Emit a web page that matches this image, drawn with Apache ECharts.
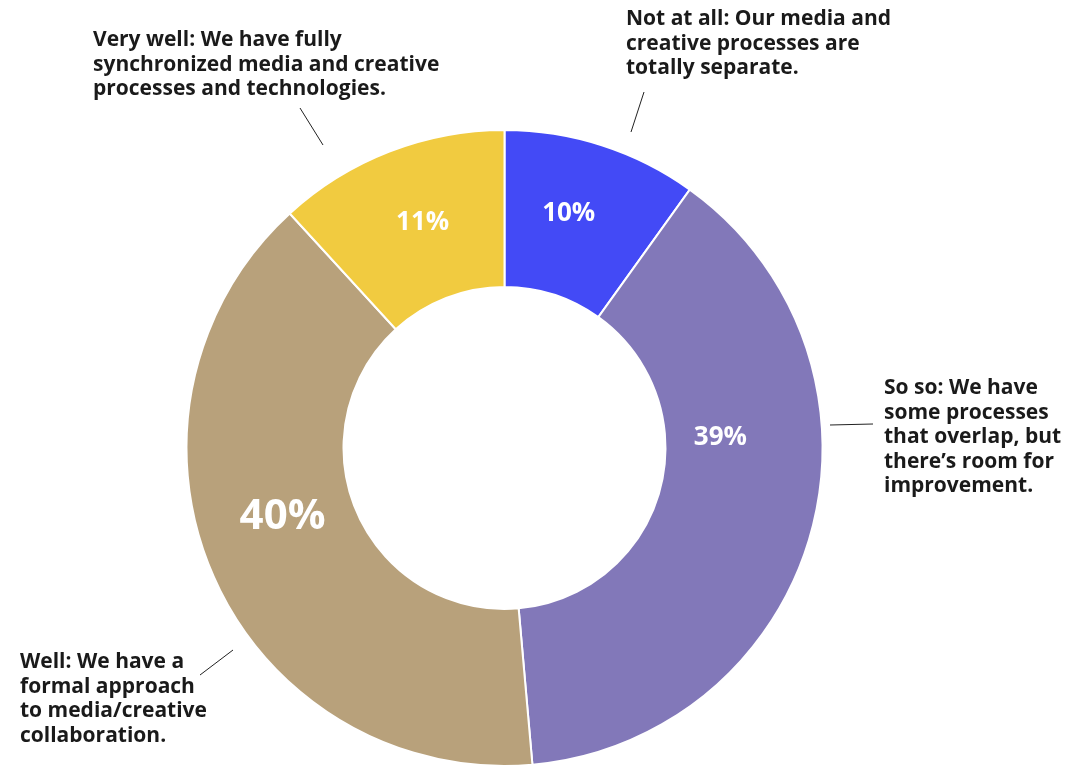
<!DOCTYPE html>
<html>
<head>
<meta charset="utf-8">
<script src="https://cdn.jsdelivr.net/npm/echarts@6/dist/echarts.min.js"></script>
<style>
html,body{margin:0;padding:0;background:#fff;}
#chart{width:1072px;height:766px;}
</style>
</head>
<body>
<div id="chart"></div>
<script>
// Data
const categories = ['Not at all', 'So so', 'Well', 'Very well'];
const values = [9.9, 38.7, 39.6, 11.8];          // slice shares as drawn
const valueLabels = ['10%', '39%', '40%', '11%']; // printed labels
const colors = ['#434AF6', '#8278B9', '#B8A17B', '#F1CB40'];
const descriptions = [
  'Not at all: Our media and\ncreative processes are\ntotally separate.',
  'So so: We have\nsome processes\nthat overlap, but\nthere\u2019s room for\nimprovement.',
  'Well: We have a\nformal approach\nto media/creative\ncollaboration.',
  'Very well: We have fully\nsynchronized media and creative\nprocesses and technologies.'
];

const chart = echarts.init(document.getElementById('chart'));
const FONT = '"Open Sans", "Noto Sans", sans-serif';

const labelTweaks = [
  {offset: [-10, -4], fontSize: 26},
  {offset: [-18, -74], fontSize: 26},
  {offset: [0, -29], fontSize: 42},
  {offset: [6, 1], fontSize: 26}
];

const descPos = [
  {x: 626, y: 7},
  {x: 884, y: 376},
  {x: 20, y: 650},
  {x: 93, y: 28}
];
const leaderLines = [
  [[644, 92], [631, 132]],
  [[830, 425], [873, 424]],
  [[200, 675], [233, 650]],
  [[300, 108], [323, 145]]
];

const graphics = [];
descriptions.forEach((t, i) => {
  graphics.push({
    type: 'text', left: descPos[i].x, top: descPos[i].y,
    style: {text: t, fill: '#1a1a1a', font: 'bold 21px ' + FONT, lineHeight: 24.5}
  });
  graphics.push({
    type: 'line',
    shape: {x1: leaderLines[i][0][0], y1: leaderLines[i][0][1], x2: leaderLines[i][1][0], y2: leaderLines[i][1][1]},
    style: {stroke: '#222', lineWidth: 1}
  });
});

chart.setOption({
  animation: false,
  backgroundColor: '#fff',
  graphic: graphics,
  series: [{
    type: 'pie',
    center: [504.5, 448],
    radius: [161, 318],
    startAngle: 90,
    clockwise: true,
    avoidLabelOverlap: false,
    itemStyle: {borderColor: '#fff', borderWidth: 2},
    label: {
      show: true, position: 'inside', color: '#fff', fontWeight: 'bold',
      fontFamily: FONT,
      formatter: p => valueLabels[p.dataIndex]
    },
    labelLine: {show: false},
    emphasis: {disabled: true},
    data: categories.map((c, i) => ({
      name: c, value: values[i],
      itemStyle: {color: colors[i]},
      label: {offset: labelTweaks[i].offset, fontSize: labelTweaks[i].fontSize}
    }))
  }]
});
</script>
</body>
</html>
